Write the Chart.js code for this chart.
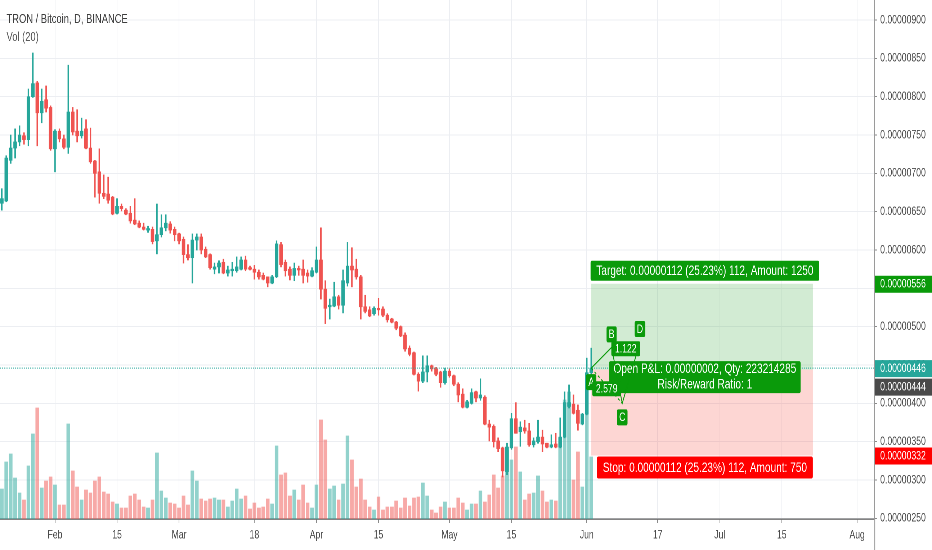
<!DOCTYPE html>
<html>
<head>
<meta charset="utf-8">
<script src="https://cdn.jsdelivr.net/npm/chart.js@4.4.1/dist/chart.umd.min.js"></script>
<style>
  html, body { margin: 0; padding: 0; background: #fff; overflow: hidden; }
  /* the reference snapshot is squeezed sideways, so draw wide and squeeze */
  #wrap { width: 1294px; height: 550px; transform: scaleX(0.72025); transform-origin: 0 0; }
</style>
</head>
<body>
<div id="wrap"><canvas id="chart"></canvas></div>
<script>
// TRX/BTC daily, 2019-01-20 .. 2019-06-02 (x = day index from Jan 20), prices in satoshi
const open = [661,664,717,733,741,749,744,800,818,779,796,786,732,755,745,734,780,755,749,758,
  733,716,702,674,673,669,648,657,652,648,639,635,630,626,627,612,620,629,634,627,
  621,614,594,590,613,617,601,594,575,578,584,570,573,573,575,587,577,575,571,567,
  565,557,565,607,584,575,567,576,575,570,566,571,587,549,526,527,539,528,557,579,
  575,565,526,522,517,524,523,515,510,506,500,489,472,466,438,429,441,449,445,441,
  427,442,436,425,412,395,400,415,407,408,373,370,351,342,311,342,380,363,368,364,
  346,350,356,348,343,347,343,356,396,399,391,373,386,440];
const high = [680,723,750,758,762,753,810,857,820,810,814,788,757,758,750,841,786,783,772,770,
  759,717,732,698,695,670,667,660,654,657,667,638,635,631,630,660,646,646,637,630,
  622,617,607,621,621,621,604,595,583,586,588,579,584,591,591,592,579,580,574,570,
  565,567,612,610,587,578,583,579,587,574,577,604,629,560,536,558,541,574,610,603,
  588,567,541,526,526,537,526,517,511,507,501,492,475,467,440,462,462,450,447,442,
  446,445,437,427,419,404,419,416,432,410,378,372,355,343,348,387,401,376,378,374,
  355,378,365,348,359,361,381,415,424,411,398,387,459,472];
const low = [652,663,713,720,736,738,736,799,736,766,780,730,702,741,732,726,750,741,746,732,
  713,669,661,667,661,646,647,651,646,635,633,629,626,623,608,595,617,625,622,612,
  608,583,587,557,600,595,590,575,569,570,569,566,566,571,574,573,574,562,562,561,
  552,556,564,578,566,561,560,567,557,558,565,570,536,504,510,526,523,518,553,552,
  562,510,518,513,515,515,513,506,505,496,487,468,462,437,416,427,428,442,436,421,
  425,434,423,402,394,394,399,402,404,372,351,343,337,304,307,340,361,344,361,344,
  343,348,337,342,342,342,342,355,394,386,365,372,385,438];
const close = [667,720,733,741,750,744,800,817,779,794,785,732,755,745,734,780,754,749,755,733,
  715,700,674,670,665,647,657,654,647,638,634,630,627,628,611,620,629,635,626,620,
  612,594,590,613,617,600,591,577,578,583,570,574,575,578,587,575,575,571,565,562,
  557,565,608,581,573,567,576,574,567,566,573,587,549,524,528,539,528,560,579,574,
  565,526,520,514,524,522,515,509,506,498,488,471,464,438,429,441,449,445,438,427,
  442,436,425,411,395,402,414,407,411,373,369,350,341,312,343,380,361,369,364,346,
  351,356,347,343,346,343,356,401,401,387,374,386,440,446];
const volume = [30,57,65,41,26,19,53,85,111,31,38,42,34,14,14,95,48,32,19,29,
  26,38,42,27,25,17,15,11,11,23,25,19,12,11,19,66,28,21,16,15,
  11,23,14,48,38,20,18,20,21,19,19,12,18,30,20,23,10,16,11,12,
  20,15,73,44,46,23,29,19,34,16,11,34,99,79,30,33,19,35,83,59,
  32,40,19,12,9,22,9,12,12,18,11,21,13,21,22,36,23,9,6,12,
  17,11,11,21,16,9,15,15,28,17,24,44,31,43,69,59,72,47,19,25,
  26,43,28,17,19,18,81,119,127,39,67,32,146,62];

const dateTickIdx = [12, 26, 40, 57, 71, 85, 101, 115, 132, 148, 162, 176, 193];
const dateTickLabels = ['Feb', '15', 'Mar', '18', 'Apr', '15', 'May', '15', 'Jun', '17', 'Jul', '15', 'Aug'];
const priceTicks = [250, 300, 350, 400, 450, 500, 550, 600, 650, 700, 750, 800, 850, 900];

// long position tool
const posStart = 133, posEnd = 183;
const targetPrice = 556, entryPrice = 444, stopPrice = 332;
// XABCD drawing
const patternIdx = [133, 137.6, 140, 144];
const patternPrice = [446, 473, 400, 480];
const patternNames = ['A', 'B', 'C', 'D'];

const FONT = '"Liberation Sans", Arial, sans-serif';
const UP = '#26a69a', DOWN = '#ef5350';
const GREEN = '#0a9a0a', RED = '#ff0000';

const isUp = close.map((c, i) => c >= open[i]);
const fmt = v => (v / 1e8).toFixed(8);

function box(ctx, text, cx, cy, h, bg, padX, font, w) {
  ctx.font = font;
  const tw = ctx.measureText(text).width;
  const bw = w || tw + padX * 2;
  ctx.fillStyle = bg;
  ctx.beginPath();
  ctx.roundRect(cx - bw / 2, cy - h / 2, bw, h, 2);
  ctx.fill();
  ctx.fillStyle = '#fff';
  ctx.textAlign = 'center';
  ctx.textBaseline = 'middle';
  ctx.fillText(text, cx, cy + 0.5);
}

const overlay = {
  id: 'overlay',
  beforeDatasetsDraw(chart) {
    const { ctx, scales: { x, y } } = chart;
    const x1 = x.getPixelForValue(posStart), x2 = x.getPixelForValue(posEnd);
    const yt = y.getPixelForValue(targetPrice), ye = y.getPixelForValue(entryPrice), ys = y.getPixelForValue(stopPrice);
    ctx.save();
    ctx.fillStyle = 'rgba(76,175,80,0.25)';
    ctx.fillRect(x1, yt, x2 - x1, ye - yt);
    ctx.fillStyle = 'rgba(244,67,54,0.22)';
    ctx.fillRect(x1, ye, x2 - x1, ys - ye);
    ctx.restore();
  },
  afterDatasetsDraw(chart) {
    const { ctx, chartArea: a, scales: { x, y } } = chart;
    ctx.save();
    // last price line
    const yl = y.getPixelForValue(close[close.length - 1]);
    ctx.strokeStyle = UP;
    ctx.lineWidth = 1;
    ctx.setLineDash([1.4, 1.6]);
    ctx.beginPath();
    ctx.moveTo(a.left, yl);
    ctx.lineTo(a.right, yl);
    ctx.stroke();
    ctx.setLineDash([]);

    // position labels
    const xc = (x.getPixelForValue(posStart) + x.getPixelForValue(posEnd)) / 2 + 4;
    const yt = y.getPixelForValue(targetPrice), ye = y.getPixelForValue(entryPrice), ys = y.getPixelForValue(stopPrice);
    const f14 = '14px ' + FONT;
    box(ctx, 'Target: 0.00000112 (25.23%) 112, Amount: 1250', xc, yt - 13, 20, GREEN, 8, f14);
    box(ctx, 'Stop: 0.00000112 (25.23%) 112, Amount: 750', xc, ys + 12, 22, RED, 8, f14);
    ctx.font = f14;
    const bw = ctx.measureText('Open P&L: 0.00000002, Qty: 223214285').width + 12;
    ctx.fillStyle = GREEN;
    ctx.beginPath();
    ctx.roundRect(xc - bw / 2, ye - 8.5, bw, 32, 2);
    ctx.fill();
    ctx.fillStyle = '#fff';
    ctx.textAlign = 'center';
    ctx.textBaseline = 'middle';
    ctx.fillText('Open P&L: 0.00000002, Qty: 223214285', xc, ye - 0.5);
    ctx.fillText('Risk/Reward Ratio: 1', xc, ye + 15);

    // XABCD pattern
    const pts = patternIdx.map((v, i) => [x.getPixelForValue(v), y.getPixelForValue(patternPrice[i])]);
    ctx.strokeStyle = GREEN;
    ctx.lineWidth = 1.2;
    ctx.beginPath();
    pts.forEach((p, i) => i ? ctx.lineTo(p[0], p[1]) : ctx.moveTo(p[0], p[1]));
    ctx.stroke();
    ctx.setLineDash([3, 3]);
    ctx.beginPath();
    ctx.moveTo(pts[0][0], pts[0][1]); ctx.lineTo(pts[2][0], pts[2][1]);
    ctx.moveTo(pts[1][0], pts[1][1]); ctx.lineTo(pts[3][0], pts[3][1]);
    ctx.stroke();
    ctx.setLineDash([]);
    const f12 = '12px ' + FONT;
    const offs = [14, -13, 14, -13];
    pts.forEach((p, i) => box(ctx, patternNames[i], p[0], p[1] + offs[i], 16, GREEN, 3, f12));
    box(ctx, '2.579', (pts[0][0] + pts[2][0]) / 2, (pts[0][1] + pts[2][1]) / 2 + 3, 15, GREEN, 5, f12);
    box(ctx, '1.122', (pts[1][0] + pts[3][0]) / 2, (pts[1][1] + pts[3][1]) / 2 + 4, 15, GREEN, 5, f12);
    ctx.restore();
  },
  afterDraw(chart) {
    const { ctx, chartArea: a, scales: { y } } = chart;
    ctx.save();
    // axis line continues through the time axis strip
    ctx.strokeStyle = '#9a9a9a';
    ctx.lineWidth = 1.2;
    ctx.beginPath();
    ctx.moveTo(a.right + 0.5, a.bottom);
    ctx.lineTo(a.right + 0.5, chart.height);
    ctx.stroke();

    ctx.font = '13px ' + FONT;
    ctx.textAlign = 'left';
    ctx.textBaseline = 'alphabetic';
    ctx.fillStyle = '#3d3d3d';
    ctx.fillText('TRON / Bitcoin, D, BINANCE', 9, 23);
    ctx.fillStyle = '#5a5a5a';
    ctx.fillText('Vol (20)', 9, 41);

    // price scale tags
    const tags = [
      [targetPrice, GREEN, 0],
      [close[close.length - 1], UP, 0],
      [entryPrice, '#4a4a4a', 17],
      [stopPrice, RED, 0]
    ];
    ctx.font = '12px ' + FONT;
    tags.forEach(([v, bg, dy]) => {
      const py = y.getPixelForValue(v) + dy;
      ctx.fillStyle = bg;
      ctx.fillRect(a.right + 1, py - 8, chart.width - a.right - 1, 17);
      ctx.fillStyle = '#fff';
      ctx.textBaseline = 'middle';
      ctx.fillText(fmt(v), a.right + 8, py + 0.5);
    });
    ctx.restore();
  }
};

new Chart(document.getElementById('chart'), {
  type: 'bar',
  data: {
    datasets: [
      {
        label: 'Volume',
        data: volume.map((v, i) => ({ x: i, y: v })),
        yAxisID: 'vol',
        backgroundColor: isUp.map(u => u ? 'rgba(38,166,154,0.5)' : 'rgba(239,83,80,0.5)'),
        barThickness: 4.4,
        grouped: false,
        order: 3
      },
      {
        label: 'Wick',
        data: low.map((l, i) => ({ x: i, y: [l, high[i]] })),
        backgroundColor: isUp.map(u => u ? UP : DOWN),
        barThickness: 1.4,
        grouped: false,
        order: 2
      },
      {
        label: 'Body',
        data: open.map((o, i) => ({ x: i, y: [o, close[i]] })),
        backgroundColor: isUp.map(u => u ? UP : DOWN),
        barThickness: 4.2,
        minBarLength: 1.2,
        grouped: false,
        order: 1
      }
    ]
  },
  options: {
    responsive: true,
    maintainAspectRatio: false,
    animation: false,
    devicePixelRatio: 2,
    layout: { padding: 0 },
    plugins: { legend: { display: false }, tooltip: { enabled: false } },
    scales: {
      x: {
        type: 'linear',
        min: -0.41,
        max: 196.9,
        offset: false,
        afterBuildTicks: s => { s.ticks = dateTickIdx.map(v => ({ value: v })); },
        afterFit: s => { s.height = 31; s.paddingLeft = 0; s.paddingRight = 0; },
        ticks: {
          autoSkip: false,
          maxRotation: 0,
          padding: 5,
          color: '#4a4a4a',
          font: { family: FONT, size: 12 },
          callback: (v, i) => dateTickLabels[i]
        },
        grid: { color: '#eceef2', tickColor: '#8a8a8a', tickLength: 4, offset: false },
        border: { color: '#5a5a5a', width: 1.2 }
      },
      y: {
        position: 'right',
        min: 249.2,
        max: 926.1,
        afterBuildTicks: s => { s.ticks = priceTicks.map(v => ({ value: v })); },
        afterFit: s => { s.width = 80; s.paddingTop = 0; s.paddingBottom = 0; },
        ticks: {
          padding: 4,
          color: '#4a4a4a',
          font: { family: FONT, size: 12 },
          callback: v => fmt(v)
        },
        grid: { color: '#eceef2', tickColor: '#8a8a8a', tickLength: 4 },
        border: { color: '#9a9a9a', width: 1.2 }
      },
      vol: { display: false, min: 0, max: 519, afterFit: s => { s.paddingTop = 0; s.paddingBottom = 0; } }
    }
  },
  plugins: [overlay]
});
</script>
</body>
</html>
